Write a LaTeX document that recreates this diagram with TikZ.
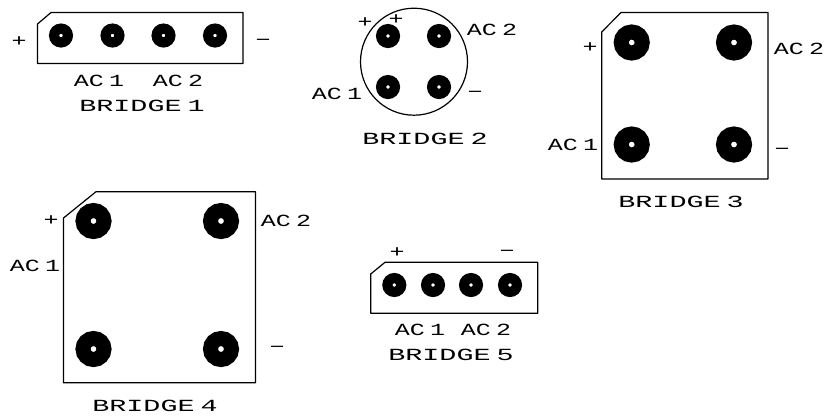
\documentclass[tikz,border=0pt]{standalone}
\usepackage{fontspec}
\setmainfont[FakeStretch=1.47,WordSpace=0.35]{Liberation Mono}
\newfontfamily\titlefont[FakeStretch=1.67,WordSpace=0.35]{Liberation Mono}
\tikzset{
  outline/.style={draw=black,line width=1.2pt,line join=round},
  padbig/.style={circle,draw=black,fill=white,line width=15pt,minimum size=21pt,inner sep=0pt,outer sep=0pt},
  padsmall/.style={circle,draw=black,fill=white,line width=10.2pt,minimum size=13.8pt,inner sep=0pt,outer sep=0pt},
  lbl/.style={inner sep=0pt,font=\fontsize{17}{17}\selectfont,text=black},
  ttl/.style={inner sep=0pt,font=\titlefont\fontsize{17}{17}\selectfont,text=black},
}
\begin{document}
\begin{tikzpicture}[x=1pt,y=-1pt]
\useasboundingbox (0,0) rectangle (829,416);
% bridge 1
\draw[outline] (37.5,24) -- (51,12.5) -- (243,12.5) -- (243,63.5) -- (37.5,63.5) -- cycle;
\foreach \n/\x in {a/61,b/112.5,c/163.5,d/215}{\node[padsmall] (one\n) at (\x,35.5) {};}
\node[lbl] (onep) at (19,42) {+};
\node[lbl] (onem) at (263,42) {−};
\node[lbl] (oneac) at (99,81) {AC 1};
\node[lbl] (oneacb) at (178,81) {AC 2};
\node[ttl] (onet) at (142,106) {BRIDGE 1};
% bridge 2
\draw[outline] (414,61.7) circle (53.5);
\foreach \n/\x/\y in {a/388/36,b/439/36,c/388/87,d/439/87}{\node[padsmall] (two\n) at (\x,\y) {};}
\node[lbl] (twop) at (365,23) {+};
\node[lbl] (twopb) at (396,20) {+};
\node[lbl] (twoacb) at (492,30) {AC 2};
\node[lbl] (twoac) at (337,94) {AC 1};
\node[lbl] (twom) at (475,94) {−};
\node[ttl] (twot) at (425,139) {BRIDGE 2};
% bridge 3
\draw[outline] (601.7,32) -- (621,12.5) -- (768,12.5) -- (768,179) -- (601.7,179) -- cycle;
\foreach \n/\x/\y in {a/631.7/42.5,b/734/42.5,c/631.7/144.5,d/734/144.5}{\node[padbig] (three\n) at (\x,\y) {};}
\node[lbl] (threep) at (590,48) {+};
\node[lbl] (threeacb) at (799,49) {AC 2};
\node[lbl] (threeac) at (573,145) {AC 1};
\node[lbl] (threem) at (782,151) {−};
\node[ttl] (threet) at (681,202) {BRIDGE 3};
% bridge 4
\draw[outline] (63.5,218) -- (96,191.7) -- (255.5,191.7) -- (255.5,382.7) -- (63.5,382.7) -- cycle;
\foreach \n/\x/\y in {a/93.5/221,b/221/221,c/93.5/349,d/221/349}{\node[padbig] (four\n) at (\x,\y) {};}
\node[lbl] (fourp) at (51,221) {+};
\node[lbl] (fouracb) at (286,221) {AC 2};
\node[lbl] (fourac) at (35,266) {AC 1};
\node[lbl] (fourm) at (277,349) {−};
\node[ttl] (fourt) at (155,406) {BRIDGE 4};
% bridge 5
\draw[outline] (370.7,274) -- (385,262.3) -- (537.7,262.3) -- (537.7,313.3) -- (370.7,313.3) -- cycle;
\foreach \n/\x in {a/394.3,b/433,c/471,d/510}{\node[padsmall] (five\n) at (\x,285) {};}
\node[lbl] (fivep) at (397,253) {+};
\node[lbl] (fivem) at (507,253) {−};
\node[lbl] (fiveac) at (420,330) {AC 1};
\node[lbl] (fiveacb) at (486,330) {AC 2};
\node[ttl] (fivet) at (451,355) {BRIDGE 5};
\end{tikzpicture}
\end{document}
